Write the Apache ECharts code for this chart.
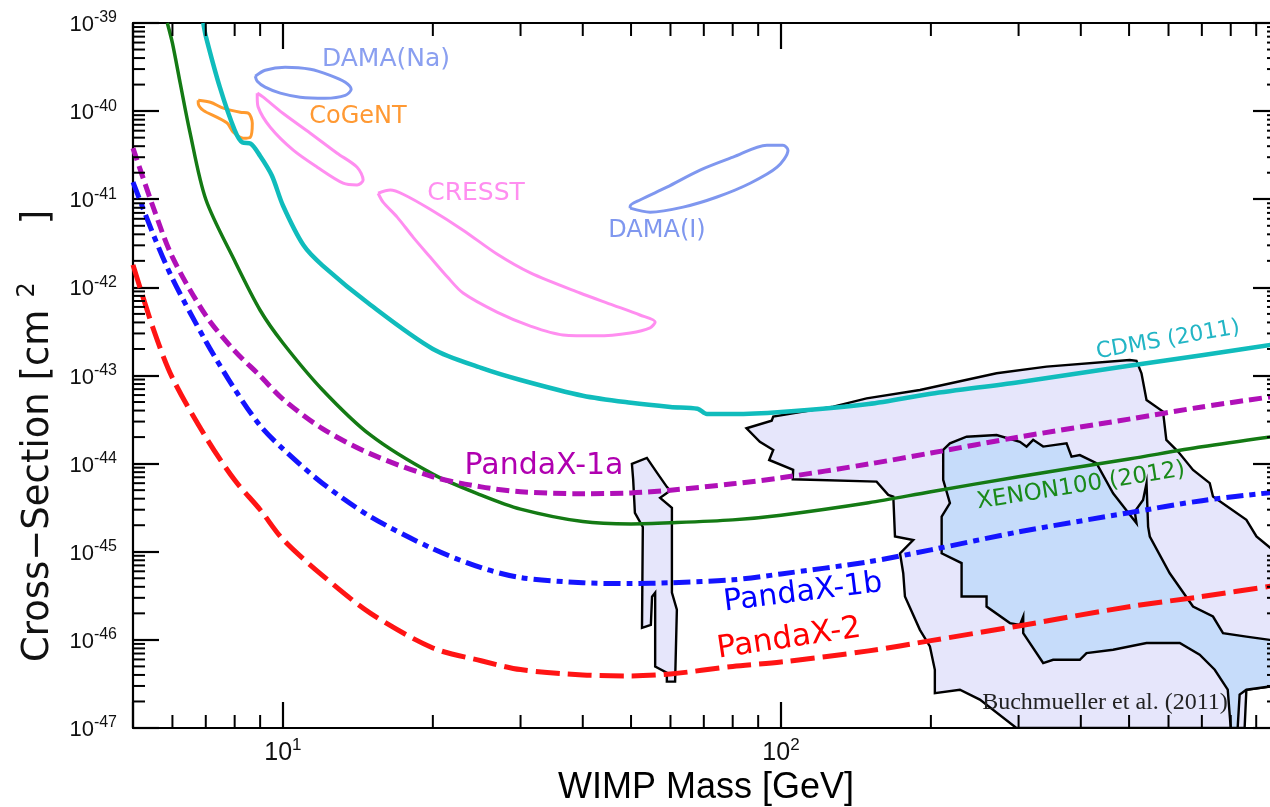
<!DOCTYPE html>
<html><head><meta charset="utf-8">
<script src="https://cdn.jsdelivr.net/npm/echarts@6/dist/echarts.min.js"></script>
<style>html,body{margin:0;padding:0;background:#fff}#c{width:1270px;height:807px}</style>
</head><body><div id="c"></div>
<script>
const X_MIN = 5, X_MAX = 1000, Y_MIN = 1e-47, Y_MAX = 1e-39;

// Limit curves: WIMP mass [GeV] and cross-section [cm^2]
const cdmsMass = [6.92, 7, 7.47, 8, 8.3, 8.6, 9, 9.5, 10, 11, 12, 15, 20, 25, 30, 40, 50, 60, 68, 71, 80, 100, 150, 200, 300, 500, 700, 1000];
const cdmsXsec = [1e-39, 7.1e-40, 1.87e-40, 6.1e-41, 4.4e-41, 4.3e-41, 3.1e-41, 1.86e-41, 8.5e-42, 3.0e-42, 1.78e-42, 6.3e-43, 2.0e-43, 1.22e-43, 8.9e-44, 5.9e-44, 4.9e-44, 4.4e-44, 4.2e-44, 3.66e-44, 3.66e-44, 3.86e-44, 4.75e-44, 6.2e-44, 8.4e-44, 1.29e-43, 1.7e-43, 2.3e-43];

const xenonMass = [5.86, 6, 6.22, 6.5, 7, 8, 9, 10, 12, 15, 20, 25, 30, 40, 50, 60, 80, 100, 150, 200, 300, 500, 700, 1000];
const xenonXsec = [1e-39, 5.9e-40, 2.07e-40, 5.9e-41, 1.0e-41, 2.0e-42, 5.5e-43, 2.34e-43, 6.9e-44, 2.1e-44, 7.6e-45, 4.4e-45, 3.05e-45, 2.2e-45, 2.07e-45, 2.13e-45, 2.3e-45, 2.6e-45, 3.6e-45, 4.8e-45, 7.1e-45, 1.13e-44, 1.55e-44, 2.07e-44];

const pandaMass = [5, 5.5, 6, 7, 8, 9, 10, 12, 15, 20, 25, 30, 40, 50, 60, 80, 100, 150, 200, 300, 500, 700, 1000];
const pandax1aXsec = [3.8e-41, 7.9e-42, 2.2e-42, 4.8e-43, 1.9e-43, 9.9e-44, 5.4e-44, 2.5e-44, 1.29e-44, 7.1e-45, 5.45e-45, 4.8e-45, 4.55e-45, 4.65e-45, 5.0e-45, 5.9e-45, 6.9e-45, 9.9e-45, 1.32e-44, 2.0e-44, 3.2e-44, 4.4e-44, 5.9e-44];
const pandax1bXsec = [1.56e-41, 3.9e-42, 1.26e-42, 2.45e-43, 7.0e-44, 2.7e-44, 1.47e-44, 6.0e-45, 2.5e-45, 1.08e-45, 6.6e-46, 5.1e-46, 4.45e-46, 4.35e-46, 4.45e-46, 4.8e-46, 5.6e-46, 7.7e-46, 1.05e-45, 1.68e-45, 2.77e-45, 3.8e-45, 4.8e-45];
const pandax2Xsec = [1.8e-42, 3.3e-43, 9.4e-44, 2.0e-44, 6.5e-45, 3.0e-45, 1.38e-45, 5.4e-46, 2.0e-46, 8.1e-47, 5.8e-47, 4.6e-47, 4.0e-47, 3.9e-47, 4.1e-47, 5.0e-47, 5.6e-47, 7.5e-47, 9.8e-47, 1.44e-46, 2.38e-46, 3.1e-46, 4.2e-46];

// Signal regions (closed contours) [mass, cross-section]
const damaNa = [[8.80,2.49e-40],[9.21,2.91e-40],[10.1,3.15e-40],[11.35,2.99e-40],[12.44,2.55e-40],[13.34,2.13e-40],[13.71,1.77e-40],[13.34,1.51e-40],[12.16,1.40e-40],[10.83,1.44e-40],[9.88,1.60e-40],[9.21,1.87e-40],[8.88,2.18e-40],[8.80,2.49e-40]];
const cogent = [[6.76,1.33e-40],[7.15,1.26e-40],[7.59,1.08e-40],[8.21,9.7e-41],[8.52,9.5e-41],[8.68,7.3e-41],[8.60,5.06e-41],[8.32,4.93e-41],[7.95,5.77e-41],[7.73,7.3e-41],[7.38,8.5e-41],[6.92,1.02e-40],[6.76,1.23e-40],[6.76,1.33e-40]];
const cresstLow = [[8.88,1.60e-40],[9.13,1.44e-40],[10.0,9.46e-41],[11.35,5.62e-41],[12.85,3.33e-41],[14.09,2.31e-41],[14.49,1.65e-41],[14.09,1.45e-41],[13.21,1.52e-41],[11.72,2.31e-41],[10.49,3.6e-41],[9.43,6.56e-41],[8.92,1.11e-40],[8.88,1.44e-40],[8.88,1.60e-40]];
const cresstHigh = [[15.53,1.17e-41],[16.43,1.27e-41],[17.43,1.14e-41],[19.75,7.7e-42],[23.0,4.46e-42],[26.9,2.39e-42],[31.4,1.46e-42],[39.5,8.63e-43],[46.0,6.3e-43],[52.1,4.86e-43],[55.9,4.05e-43],[54.6,3.47e-43],[49.8,3.04e-43],[42.7,2.82e-43],[36.5,2.89e-43],[31.4,3.64e-43],[26.9,5.25e-43],[23.0,8.63e-43],[21.4,1.31e-42],[19.75,2.21e-42],[18.25,3.72e-42],[16.96,6.27e-42],[15.89,9.27e-42],[15.53,1.17e-41]];
const damaI = [[49.8,7.92e-42],[54.6,7.14e-42],[63.6,8.14e-42],[74.4,1.06e-41],[86.7,1.52e-41],[98.2,2.31e-41],[103.3,3.6e-41],[100.9,4.11e-41],[93.7,4.11e-41],[80.1,3.0e-41],[68.8,2.14e-41],[59.0,1.37e-41],[52.1,9.8e-42],[49.8,8.35e-42],[49.8,7.92e-42]];

// Buchmueller et al. (2011) regions
const buchThin = [[50.2,9.93e-45],[53.8,1.16e-44],[56.4,7.85e-45],[59.0,5.45e-45],[59.9,4.91e-45],[57.2,4.09e-45],[60.4,3.15e-45],[60.4,3.43e-46],[61.8,2.2e-46],[61.3,3.36e-47],[59.0,3.36e-47],[59.0,4.25e-47],[55.9,4.97e-47],[55.9,3.43e-46],[55.1,3.09e-46],[54.8,1.48e-46],[52.6,1.37e-46],[52.8,1.91e-45],[50.9,2.76e-45],[50.5,6.53e-45]];
const buchOuter = [[85.3,2.52e-44],[95.8,3.07e-44],[96.5,3.41e-44],[127.4,4.43e-44],[148.6,5.51e-44],[190.1,6.85e-44],[271,1.06e-43],[341.5,1.26e-43],[501.6,1.5e-43],[517.4,1.47e-43],[529.5,1.06e-43],[542,5.27e-44],[585,3.89e-44],[594,1.86e-44],[627,1.37e-44],[672,8.49e-45],[726,6.0e-45],[737,4.23e-45],[860,2.3e-45],[901,1.49e-45],[1000,9.2e-46],[1000,3.0e-47],[958,2.96e-47],[860,2.72e-47],[853,1e-47],[297,1e-47],[250.8,2.1e-47],[228.7,2.72e-47],[203.7,2.49e-47],[203.7,4.58e-47],[199.1,8.41e-47],[190.1,1.3e-46],[177.4,3.1e-46],[176,5.7e-46],[173.4,9.6e-46],[184.3,1.36e-45],[169.4,1.49e-45],[168.1,4.23e-45],[164.2,4.42e-45],[155.6,6.25e-45],[105.6,6.65e-45],[105.8,8.49e-45],[94.7,1.1e-44],[96.5,1.43e-44],[90.7,1.77e-44]];
const buchInner = [[211.7,1.43e-44],[218.4,1.70e-44],[235.9,2.02e-44],[271,2.11e-44],[301.8,1.77e-44],[311.3,1.56e-44],[320.9,1.86e-44],[336.1,1.56e-44],[374.5,1.70e-44],[383.2,1.2e-44],[398.2,1.25e-44],[430,1.01e-44],[464.4,4.61e-45],[517.4,2.11e-45],[513.3,2.86e-45],[533.4,3.87e-45],[542,6.0e-45],[546,1.93e-45],[550.3,1.49e-45],[603.4,5.7e-46],[672,2.39e-46],[737,1.84e-46],[772,1.19e-46],[860,1.09e-46],[958,1.0e-46],[1000,9.8e-47],[1000,3.0e-47],[958,2.96e-47],[860,2.72e-47],[833.6,2.39e-47],[826,1e-47],[800,1e-47],[789,2.72e-47],[743,4.58e-47],[693,6.78e-47],[632,9.2e-47],[542,9.2e-47],[464.4,7.73e-47],[410.7,7.08e-47],[398.2,5.95e-47],[352,5.95e-47],[336.1,5.46e-47],[306.5,1.19e-46],[306.5,1.84e-46],[301.8,1.48e-46],[288.2,1.55e-46],[258.7,2.39e-46],[258.7,3.1e-46],[230.5,3.1e-46],[230.5,7.43e-46],[210.2,9.6e-46],[210.2,2.5e-45],[218.4,3.56e-45],[211.7,6.53e-45]];

// Axis decoration
const yMinorDecades = [-47, -46, -45, -44, -43, -42, -41, -40];
const minorMultipliers = [2, 3, 4, 5, 6, 7, 8, 9];
const xMinorDecades = [0, 1, 2];

const yMinor = [];
yMinorDecades.forEach(d => minorMultipliers.forEach(k => yMinor.push([X_MIN, k * Math.pow(10, d)])));
const xMinor = [];
xMinorDecades.forEach(d => minorMultipliers.forEach(k => { const v = k * Math.pow(10, d); if (v > X_MIN && v < X_MAX) xMinor.push([v, Y_MIN]); }));

const pairs = (xs, ys) => xs.map((x, i) => [x, ys[i]]);

function lineSeries(name, data, color, width, type, z) {
  return { name, type: 'line', data, showSymbol: false, symbol: 'none', smooth: 0.3, clip: true, z: z || 4,
    lineStyle: { color, width, type: type || 'solid', cap: 'butt', join: 'round' }, silent: true, animation: false };
}
function polygonSeries(name, verts, fill, z) {
  return { name, type: 'custom', coordinateSystem: 'cartesian2d', data: verts, clip: true, z: z, silent: true,
    renderItem: (params, api) => {
      if (params.dataIndex !== 0) return null;
      return { type: 'polygon', shape: { points: verts.map(p => api.coord(p)) },
        style: { fill, stroke: '#000', lineWidth: 2.4, lineJoin: 'miter' } };
    } };
}

const richY = {
  b: { fontSize: 22, lineHeight: 30, fontFamily: 'Liberation Sans', color: '#111' },
  s: { fontSize: 16, lineHeight: 16, verticalAlign: 'top', fontFamily: 'Liberation Sans', color: '#111' }
};
const richX = {
  b: { fontSize: 25, lineHeight: 32, fontFamily: 'Liberation Sans', color: '#111' },
  s: { fontSize: 17, lineHeight: 17, verticalAlign: 'top', fontFamily: 'Liberation Sans', color: '#111' }
};
function expOf(v) { const e = Math.log10(v); const r = Math.round(e); return Math.abs(e - r) < 1e-3 ? r : null; }

const axisCommon = {
  axisLine: { show: true, onZero: false, lineStyle: { color: '#000', width: 2.2 } },
  axisTick: { show: true, inside: true, length: 26, lineStyle: { color: '#000', width: 2.2 } },
  splitLine: { show: false }, minorTick: { show: false }, minorSplitLine: { show: false }
};

function txt(text, x, y, deg, size, color, family) {
  return { type: 'text', x, y, rotation: deg * Math.PI / 180, z: 100,
    style: { text, align: 'center', verticalAlign: 'middle', textAlign: 'center', textVerticalAlign: 'middle', font: size + 'px ' + (family || '"DejaVu Sans"'), fill: color } };
}

// The y axis minimum is nudged by a hair below 1e-47 so that the 1e-47 decade is a regular (labelled) tick.
const Y_AXIS_MIN = Y_MIN * 0.99999;

const chart = echarts.init(document.getElementById('c'), null, { renderer: 'canvas' });
chart.setOption({
  animation: false,
  backgroundColor: '#fff',
  grid: { left: 133, top: 23, width: 1146, height: 705, containLabel: false, outerBoundsMode: 'none' },
  xAxis: [
    Object.assign({ type: 'log', logBase: 10, min: X_MIN, max: X_MAX, position: 'bottom',
      axisLabel: { margin: 9, rich: richX, formatter: v => { const r = expOf(v); return (r === 1 || r === 2) ? '{b|10}{s|' + r + '}' : ''; } },
      name: 'WIMP Mass [GeV]', nameLocation: 'middle', nameGap: 37,
      nameTextStyle: { fontSize: 36, fontFamily: 'Liberation Sans', color: '#000' } }, axisCommon),
    Object.assign({ type: 'log', logBase: 10, min: X_MIN, max: X_MAX, position: 'top', axisLabel: { show: false } }, axisCommon)
  ],
  yAxis: [
    Object.assign({ type: 'log', logBase: 10, min: Y_AXIS_MIN, max: Y_MAX, position: 'left', splitNumber: 8,
      axisLabel: { margin: 16, padding: [4, 0, 0, 0], showMinLabel: true, showMaxLabel: true, hideOverlap: false, rich: richY,
        formatter: v => { const r = expOf(v); return (r === null || r < -47 || r > -39) ? '' : '{b|10}{s|' + r + '}'; } } }, axisCommon),
    Object.assign({ type: 'log', logBase: 10, min: Y_AXIS_MIN, max: Y_MAX, position: 'right', splitNumber: 8, axisLabel: { show: false } }, axisCommon)
  ],
  graphic: [
    { type: 'text', x: 38, y: 436, rotation: Math.PI / 2, z: 100,
      style: { text: '{t|Cross−Section [cm}{s|2}{g|]}', align: 'center', verticalAlign: 'middle', textAlign: 'center', textVerticalAlign: 'middle',
        rich: { t: { fontSize: 37, fontFamily: 'DejaVu Sans', fill: '#111', lineHeight: 44 },
                s: { fontSize: 24, fontFamily: 'DejaVu Sans', fill: '#111', lineHeight: 26, verticalAlign: 'top', padding: [0, 0, 0, 12] },
                g: { fontSize: 37, fontFamily: 'DejaVu Sans', fill: '#111', lineHeight: 44, padding: [0, 0, 0, 58] } } } },
    txt('DAMA(Na)', 386, 59, 0, 25, '#8a9ff0'),
    txt('CoGeNT', 358, 117, 0, 24, '#ff9933'),
    txt('CRESST', 476, 193, 0, 25, '#ff8ef0'),
    txt('DAMA(I)', 657, 231, 0, 24, '#7f97ef'),
    txt('CDMS (2011)', 1168, 340, 10, 22, '#22b5c5'),
    txt('XENON100 (2012)', 1081, 486, 9, 23, '#1a8a1a'),
    txt('PandaX-1a', 544, 466, 0, 30, '#b000b0'),
    txt('PandaX-1b', 803, 593, 7, 30, '#0000ff'),
    txt('PandaX-2', 789, 639, 8.5, 31, '#ff0000'),
    txt('Buchmueller et al. (2011)', 1105, 703, 0, 24, '#222', '"Liberation Serif"')
  ],
  series: [
    polygonSeries('Buchmueller outer', buchOuter, '#e6e6fb', 1),
    polygonSeries('Buchmueller inner', buchInner, '#c6dcfa', 2),
    polygonSeries('Buchmueller thin', buchThin, '#e6e6fb', 2),
    lineSeries('DAMA(Na)', damaNa, '#7f97ef', 3),
    lineSeries('CoGeNT', cogent, '#ff9a2e', 3),
    lineSeries('CRESST low', cresstLow, '#ff8ef0', 3),
    lineSeries('CRESST high', cresstHigh, '#ff8ef0', 3),
    lineSeries('DAMA(I)', damaI, '#7f97ef', 3),
    lineSeries('CDMS (2011)', pairs(cdmsMass, cdmsXsec), '#10bcbc', 4.5),
    lineSeries('XENON100 (2012)', pairs(xenonMass, xenonXsec), '#147a14', 3.5),
    lineSeries('PandaX-1a', pairs(pandaMass, pandax1aXsec), '#b010b8', 5, [13, 6]),
    lineSeries('PandaX-1b', pairs(pandaMass, pandax1bXsec), '#1414ff', 5, [17, 6, 6, 6]),
    lineSeries('PandaX-2', pairs(pandaMass, pandax2Xsec), '#ff1414', 5, [24, 8]),
    { type: 'custom', name: 'yMinorTicks', coordinateSystem: 'cartesian2d', data: yMinor, clip: false, z: 10, silent: true,
      renderItem: (params, api) => {
        const v = api.value(1); const pl = api.coord([X_MIN, v]); const pr = api.coord([X_MAX, v]);
        return { type: 'group', children: [
          { type: 'line', shape: { x1: pl[0], y1: pl[1], x2: pl[0] + 12, y2: pl[1] }, style: { stroke: '#000', lineWidth: 2 } },
          { type: 'line', shape: { x1: pr[0], y1: pr[1], x2: pr[0] - 12, y2: pr[1] }, style: { stroke: '#000', lineWidth: 2 } } ] };
      } },
    { type: 'custom', name: 'xMinorTicks', coordinateSystem: 'cartesian2d', data: xMinor, clip: false, z: 10, silent: true,
      renderItem: (params, api) => {
        const v = api.value(0); const pb = api.coord([v, Y_MIN]); const pt = api.coord([v, Y_MAX]);
        return { type: 'group', children: [
          { type: 'line', shape: { x1: pb[0], y1: pb[1], x2: pb[0], y2: pb[1] - 13 }, style: { stroke: '#000', lineWidth: 2 } },
          { type: 'line', shape: { x1: pt[0], y1: pt[1], x2: pt[0], y2: pt[1] + 13 }, style: { stroke: '#000', lineWidth: 2 } } ] };
      } }
  ]
});
</script></body></html>
